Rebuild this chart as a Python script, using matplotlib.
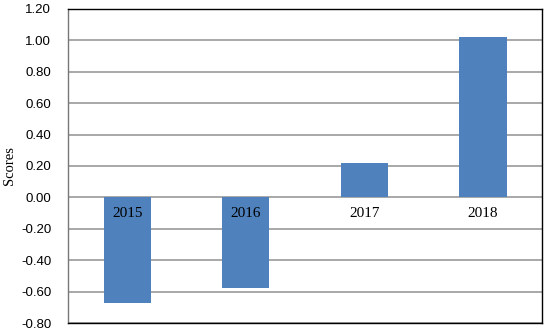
import matplotlib.pyplot as plt
from matplotlib.transforms import offset_copy

years = ["2015", "2016", "2017", "2018"]
scores = [-0.67, -0.58, 0.22, 1.02]
y_ticks = [-0.80, -0.60, -0.40, -0.20, 0.00, 0.20, 0.40, 0.60, 0.80, 1.00, 1.20]

fig = plt.figure(figsize=(5.5, 3.32), dpi=100)
ax = fig.add_axes([0.1236, 0.0271, 0.862, 0.9458])

x = range(len(years))
ax.bar(x, scores, width=0.4, color="#4F81BD", zorder=3)

ax.set_xlim(-0.5, len(years) - 0.5)
ax.set_ylim(-0.80, 1.20)
ax.set_yticks(y_ticks)
ax.set_yticklabels([f"{v:.2f}" for v in y_ticks], fontsize=9.5, family="Liberation Sans")
ax.set_xticks([])
ax.tick_params(axis="y", length=0, pad=12)
ax.grid(axis="y", color="#9a9a9a", linewidth=1.2, zorder=0)

for s in ax.spines.values():
    s.set_color("black")
    s.set_linewidth(1.0)
ax.spines["left"].set_color("#777777")

# year labels sit just under the zero line, like category labels on the axis
trans = offset_copy(ax.transData, fig=fig, x=0, y=-7, units="points")
for i, yr in enumerate(years):
    ax.text(i, 0, yr, transform=trans, ha="center", va="top",
            fontsize=11, family="Liberation Serif", zorder=4)

ax.set_ylabel("Scores", fontsize=10.5, family="Liberation Serif", labelpad=4)

fig.savefig("out.png", dpi=100)
